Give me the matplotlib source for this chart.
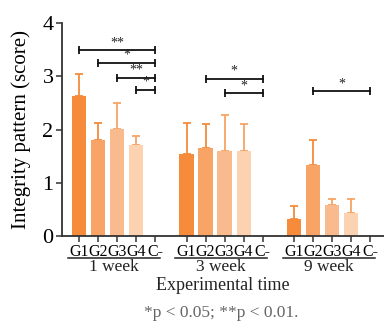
import numpy as np
import matplotlib.pyplot as plt

plt.rcParams['font.family'] = ['Liberation Serif', 'DejaVu Serif']

groups = ['1 week', '3 week', '9 week']
labels = ['G1', 'G2', 'G3', 'G4', 'C-']
colors = ['#F58B3B', '#F7A466', '#F9BB8D', '#FCD2B1', '#FFFFFF']

# mean and upper error (top of error bar) per group, G1..G4, C- = 0
means = [[2.63, 1.80, 2.01, 1.70, 0.0],
         [1.54, 1.66, 1.60, 1.60, 0.0],
         [0.32, 1.33, 0.58, 0.44, 0.0]]
tops = [[3.04, 2.13, 2.49, 1.88, 0.0],
        [2.13, 2.10, 2.27, 2.10, 0.0],
        [0.57, 1.80, 0.69, 0.69, 0.0]]

# significance: (group, from bar, to bar, height, stars)
sig = [(0, 0, 4, 3.49, '**'),
       (0, 1, 4, 3.25, '*'),
       (0, 2, 4, 2.97, '**'),
       (0, 3, 4, 2.75, '*'),
       (1, 1, 4, 2.95, '*'),
       (1, 2, 4, 2.68, '*'),
       (2, 1, 4, 2.72, '*')]

gap = 5.66
width = 0.74

fig = plt.figure(figsize=(3.84, 3.25), dpi=100)
ax = fig.add_axes([0.161, 0.274, 0.839, 0.655])

xt = []
xl = []
for g in range(3):
    x = g * gap + np.arange(5)
    m = np.array(means[g])
    err = np.array(tops[g]) - m
    for i in range(4):
        ax.bar(x[i], m[i], width=width, color=colors[i], zorder=2)
        ax.errorbar(x[i], m[i], yerr=[[0], [err[i]]], color=colors[i],
                    ecolor=colors[0] if i < 2 else '#F7A466', elinewidth=1.3,
                    capsize=3, capthick=1.3, zorder=1)
    xt += list(x)
    xl += labels
    # group underline and label
    ax.plot([x[0] - 0.6, x[4] + 0.25], [-0.102, -0.102], color='#222222', lw=1.1,
            transform=ax.get_xaxis_transform(), clip_on=False)
    ax.text((x[0] - 0.6 + x[4] + 0.25) / 2, -0.108, groups[g], ha='center', va='top',
            fontsize=12.5, color='#222222', transform=ax.get_xaxis_transform())

for g, a, b, h, s in sig:
    x1 = g * gap + a
    x2 = g * gap + b
    ax.plot([x1, x2], [h, h], color='#111111', lw=1.3, marker='|', markersize=6,
            markeredgewidth=1.3)
    ax.text((x1 + x2) / 2, h + 0.02, s, ha='center', va='bottom', fontsize=10,
            color='#222222')

ax.set_xticks(xt)
ax.set_xticklabels(xl, fontsize=11.5)
ax.set_xlim(-0.9, 16.05)
ax.set_ylim(0, 4)
ax.set_yticks([0, 1, 2, 3, 4])
ax.tick_params(axis='y', labelsize=16, length=4, width=1.1, pad=2, color='#333333')
ax.tick_params(axis='x', length=4, width=1.1, pad=1.5, color='#333333')
for s in ['top', 'right']:
    ax.spines[s].set_visible(False)
for s in ['left', 'bottom']:
    ax.spines[s].set_color('#333333')
    ax.spines[s].set_linewidth(1.3)

ax.set_ylabel('Integrity pattern (score)', fontsize=15, labelpad=8)
fig.text(0.58, 0.122, 'Experimental time', ha='center', va='center', fontsize=13,
         color='#222222')
fig.text(0.575, 0.037, '*p < 0.05; **p < 0.01.', ha='center', va='center',
         fontsize=12.5, color='#666666')

fig.savefig('out.png', dpi=100)
